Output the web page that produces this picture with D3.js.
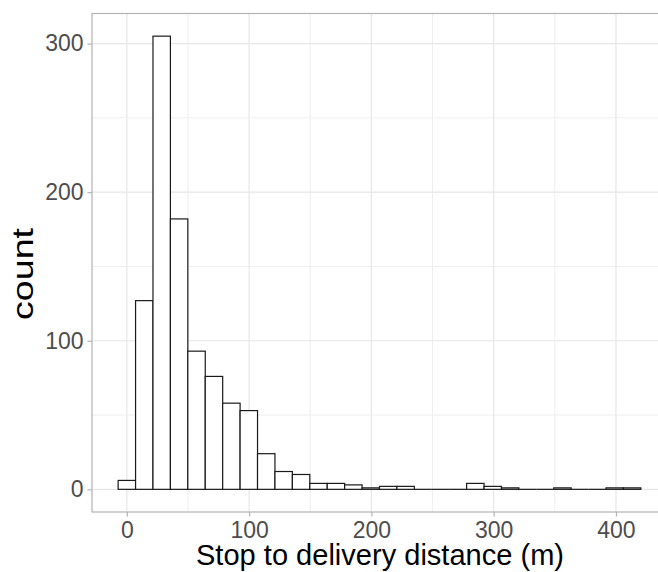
<!DOCTYPE html>
<html>
<head>
<meta charset="utf-8">
<script src="https://cdn.jsdelivr.net/npm/d3@7"></script>
<style>
  body { margin: 0; background: #fff; }
  svg { display: block; font-family: "Liberation Sans", Arial, sans-serif; }
</style>
</head>
<body>
<svg id="chart" width="658" height="572"></svg>
<script>
// histogram bins: width 14.25, first bin centred at 0
const binWidth = 14.25
const binCenters = d3.range(30).map(i => i * binWidth)
const counts = [6, 127, 305, 182, 93, 76, 58, 53, 24, 12,
                10, 4, 4, 3, 1, 2, 2, 0, 0, 0,
                4, 2, 1, 0, 0, 1, 0, 0, 1, 1]
const xTicks = [0, 100, 200, 300, 400]
const xMinor = [50, 150, 250, 350]
const yTicks = [0, 100, 200, 300]
const yMinor = [50, 150, 250]

const width = 658
const height = 572
const panel = {left: 92, top: 13.5, right: 667, bottom: 512}

const svg = d3.select("#chart")

const x = d3.scaleLinear().domain([-28.5, 441.75]).range([panel.left, panel.right])
const y = d3.scaleLinear().domain([-15.25, 320.25]).range([panel.bottom, panel.top])

// grid
const grid = svg.append("g")
grid.selectAll(".xminor").data(xMinor).join("line")
    .attr("x1", d => x(d)).attr("x2", d => x(d))
    .attr("y1", panel.top).attr("y2", panel.bottom)
    .attr("stroke", "#EEEEEE").attr("stroke-width", 1)
grid.selectAll(".yminor").data(yMinor).join("line")
    .attr("y1", d => y(d)).attr("y2", d => y(d))
    .attr("x1", panel.left).attr("x2", panel.right)
    .attr("stroke", "#EEEEEE").attr("stroke-width", 1)
grid.selectAll(".xmajor").data(xTicks).join("line")
    .attr("x1", d => x(d)).attr("x2", d => x(d))
    .attr("y1", panel.top).attr("y2", panel.bottom)
    .attr("stroke", "#E6E6E6").attr("stroke-width", 1.2)
grid.selectAll(".ymajor").data(yTicks).join("line")
    .attr("y1", d => y(d)).attr("y2", d => y(d))
    .attr("x1", panel.left).attr("x2", panel.right)
    .attr("stroke", "#E6E6E6").attr("stroke-width", 1.2)

// bars (empty bins still show their outline as a flat line)
const bars = svg.append("g")
bars.selectAll("rect").data(counts).join("rect")
    .attr("x", (d, i) => x(binCenters[i] - binWidth / 2))
    .attr("width", (d, i) => x(binCenters[i] + binWidth / 2) - x(binCenters[i] - binWidth / 2))
    .attr("y", d => y(d))
    .attr("height", d => y(0) - y(d))
    .attr("fill", "#fff")
    .attr("stroke", "#1a1a1a")
    .attr("stroke-width", 1.2)
bars.selectAll("line").data(counts.map((c, i) => ({c, i})).filter(d => d.c === 0)).join("line")
    .attr("x1", d => x(binCenters[d.i] - binWidth / 2))
    .attr("x2", d => x(binCenters[d.i] + binWidth / 2))
    .attr("y1", y(0)).attr("y2", y(0))
    .attr("stroke", "#1a1a1a")
    .attr("stroke-width", 1.2)

// panel border
svg.append("rect")
    .attr("x", panel.left).attr("y", panel.top)
    .attr("width", panel.right - panel.left).attr("height", panel.bottom - panel.top)
    .attr("fill", "none").attr("stroke", "#B3B3B3").attr("stroke-width", 1.2)

// axes
const xAxis = d3.axisBottom(x).tickValues(xTicks).tickSize(4.5).tickPadding(5)
const yAxis = d3.axisLeft(y).tickValues(yTicks).tickSize(4.5).tickPadding(4)

const gx = svg.append("g").attr("transform", `translate(0,${panel.bottom})`).call(xAxis)
const gy = svg.append("g").attr("transform", `translate(${panel.left},0)`).call(yAxis)

for (const g of [gx, gy]) {
    g.select(".domain").remove()
    g.selectAll(".tick line").attr("stroke", "#B3B3B3").attr("stroke-width", 1.2)
    g.selectAll(".tick text").attr("fill", "#4D4D4D")
        .style("font-size", "23px").style("font-family", "'Liberation Sans', Arial, sans-serif")
}

// titles
svg.append("text")
    .attr("x", 380).attr("y", 565)
    .attr("text-anchor", "middle")
    .attr("textLength", 368).attr("lengthAdjust", "spacingAndGlyphs")
    .style("font-size", "29px").attr("fill", "#000")
    .text("Stop to delivery distance (m)")

svg.append("text")
    .attr("transform", `translate(33,274) rotate(-90)`)
    .attr("text-anchor", "middle")
    .attr("textLength", 92).attr("lengthAdjust", "spacingAndGlyphs")
    .style("font-size", "30px").attr("fill", "#000")
    .text("count")
</script>
</body>
</html>
